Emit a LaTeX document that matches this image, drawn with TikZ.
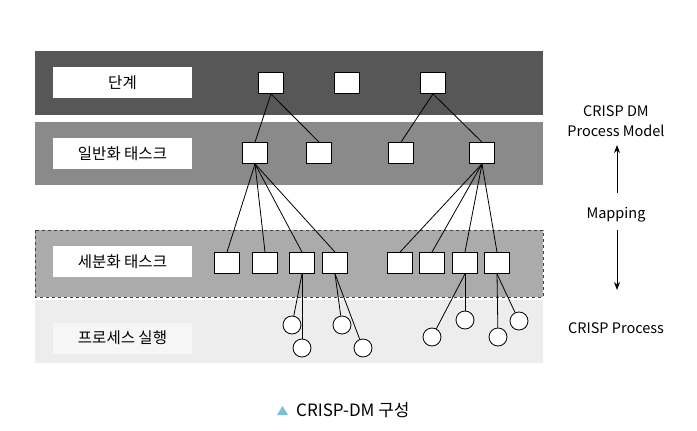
\documentclass[tikz,border=0pt]{standalone}
\usepackage{fontspec}
\setmainfont{Noto Sans CJK KR}
\usetikzlibrary{arrows.meta}
\definecolor{bandA}{HTML}{575757}
\definecolor{bandB}{HTML}{8A8A8A}
\definecolor{bandC}{HTML}{ABABAB}
\definecolor{bandD}{HTML}{EDEDED}
\definecolor{tri}{HTML}{7FBFD0}
\tikzset{
  lbl/.style={fill=white, minimum width=139pt, minimum height=31pt, inner sep=0pt, font=\fontsize{15.5}{18}\selectfont},
  sq/.style={draw=black, fill=white, line width=0.8pt, minimum width=25pt, minimum height=21pt, inner sep=0pt},
  cir/.style={draw=black, fill=white, line width=0.8pt, circle, minimum size=18pt, inner sep=0pt},
  conn/.style={line width=0.8pt, black},
  side/.style={font=\fontsize{14.5}{20}\selectfont, align=center, inner sep=1pt},
  arr/.style={line width=0.8pt, -{Stealth[length=8pt,width=6pt]}}
}
\begin{document}
\begin{tikzpicture}[x=1pt,y=-1pt]
\useasboundingbox[fill=white] (0,0) rectangle (697,431);
% bands
\fill[bandA] (35,51) rectangle (543,115);
\fill[bandB] (35,122) rectangle (543,185);
\fill[bandC] (35,230) rectangle (543,297);
\draw[black!75, line width=1pt, dashed] (35,230) rectangle (543,297);
\fill[bandD] (35,300) rectangle (543,363);
% labels
\node[lbl] (l1) at (122.5,82.5) {단계};
\node[lbl] (l2) at (122.5,153.5) {일반화 태스크};
\node[lbl] (l3) at (122.5,261.5) {세분화 태스크};
\node[lbl, fill=white!50!bandD] (l4) at (122.5,338) {프로세스 실행};
% level 1
\node[sq] (a1) at (271,83) {};
\node[sq] (a2) at (347,83) {};
\node[sq] (a3) at (433,83) {};
% level 2
\node[sq] (b1) at (255,153) {};
\node[sq] (b2) at (319,153) {};
\node[sq] (b3) at (401,153) {};
\node[sq] (b4) at (482,153) {};
% level 3
\node[sq] (c1) at (227,263) {};
\node[sq] (c2) at (265,263) {};
\node[sq] (c3) at (302,263) {};
\node[sq] (c4) at (335,263) {};
\node[sq] (c5) at (400,263) {};
\node[sq] (c6) at (432,263) {};
\node[sq] (c7) at (465,263) {};
\node[sq] (c8) at (497,263) {};
% circles
\node[cir] (d1) at (292,325) {};
\node[cir] (d2) at (302,348) {};
\node[cir] (d3) at (342,325) {};
\node[cir] (d4) at (363,348) {};
\node[cir] (d5) at (432,337) {};
\node[cir] (d6) at (465,320) {};
\node[cir] (d7) at (498,337) {};
\node[cir] (d8) at (519,321) {};
% connectors
\draw[conn] (a1.south) -- (b1.north);
\draw[conn] (a1.south) -- (b2.north);
\draw[conn] (a3.south) -- (b3.north);
\draw[conn] (a3.south) -- (b4.north);
\foreach \t in {c1,c2,c3,c4} \draw[conn] (b1.south) -- (\t.north);
\foreach \t in {c5,c6,c7,c8} \draw[conn] (b4.south) -- (\t.north);
\draw[conn] (c3.south) -- (d1);
\draw[conn] (c3.south) -- (d2);
\draw[conn] (c4.south) -- (d3);
\draw[conn] (c4.south) -- (d4);
\draw[conn] (c7.south) -- (d5);
\draw[conn] (c7.south) -- (d6);
\draw[conn] (c8.south) -- (d7);
\draw[conn] (c8.south) -- (d8);
% right side
\node[side] (pm) at (616,121) {CRISP DM\\Process Model};
\node[side] (mp) at (616,215) {Mapping};
\node[side] (cp) at (616,328) {CRISP Process};
\coordinate (upstart) at (617,193);
\coordinate (upend) at (617,145);
\coordinate (downstart) at (617,230);
\coordinate (downend) at (617,290);
\draw[arr] (upstart) -- (upend);
\draw[arr] (downstart) -- (downend);
% caption
\fill[tri] (277,415) -- (288,415) -- (282.5,406) -- cycle;
\node[font=\fontsize{17}{20}\selectfont, anchor=west, inner sep=0pt] (cap) at (296,410) {CRISP-DM 구성};
\end{tikzpicture}
\end{document}
